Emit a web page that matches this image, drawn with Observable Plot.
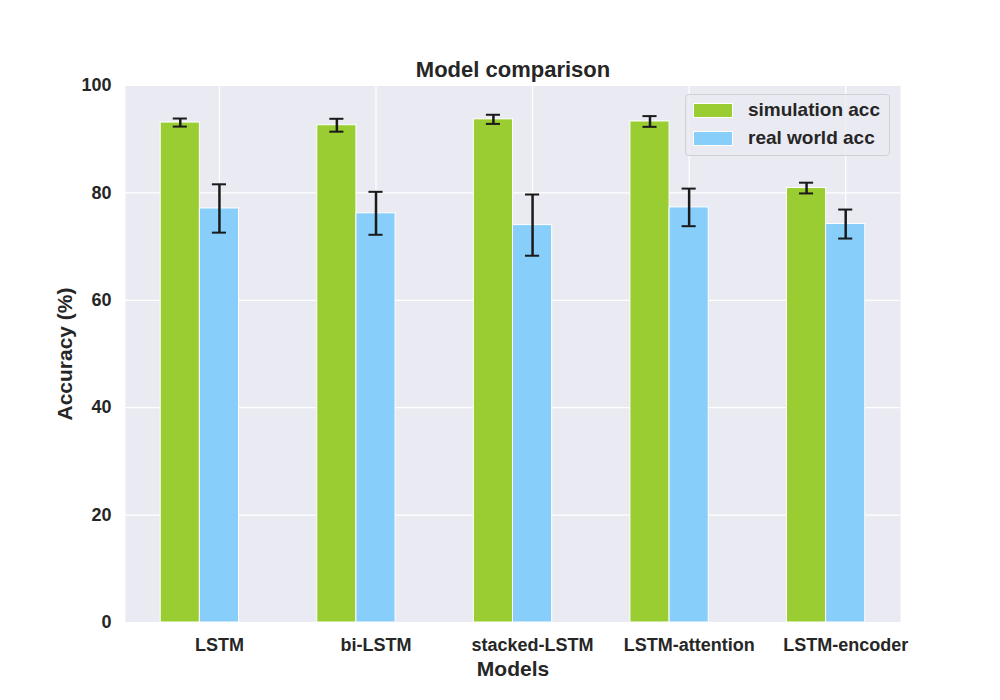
<!DOCTYPE html>
<html>
<head>
<meta charset="utf-8">
<script src="https://cdn.jsdelivr.net/npm/d3@7"></script>
<script src="https://cdn.jsdelivr.net/npm/@observablehq/plot@0.6"></script>
<style>
  body { margin: 0; background: #fff; font-family: "Liberation Sans", Arial, sans-serif; }
  #wrap { position: relative; width: 1000px; height: 700px; }
  #legend {
    position: absolute; left: 685px; top: 94px; width: 203px; height: 60px;
    background: rgba(234,234,242,0.8); border: 1px solid #cfcfd6; border-radius: 4px;
    font-weight: bold; font-size: 19px; color: #262626;
  }
  .item { position: absolute; left: 7px; display: flex; align-items: center; }
  .sw { width: 38px; height: 13px; border: 1px solid #fff; margin-right: 15px; }
</style>
</head>
<body>
<div id="wrap">
  <div id="chart"></div>
  <div id="legend">
    <div class="item" style="top:4px"><span class="sw" style="background:#9acd32"></span>simulation acc</div>
    <div class="item" style="top:32px"><span class="sw" style="background:#87cefa"></span>real world acc</div>
  </div>
</div>
<script>
const models = ["LSTM", "bi-LSTM", "stacked-LSTM", "LSTM-attention", "LSTM-encoder"];
const simAcc = [93.1, 92.6, 93.7, 93.3, 80.9];
const simErr = [0.75, 1.2, 0.85, 1.0, 1.0];
const realAcc = [77.1, 76.2, 74.0, 77.3, 74.2];
const realErr = [4.5, 4.0, 5.7, 3.5, 2.7];

const w = 0.25;
const rows = [];
models.forEach((m, i) => {
  rows.push({model: m, series: "simulation acc", c: i, v: simAcc[i], e: simErr[i]});
  rows.push({model: m, series: "real world acc", c: i + w, v: realAcc[i], e: realErr[i]});
});
const cap = 0.045;

const chart = Plot.plot({
  width: 1000,
  height: 700,
  marginLeft: 125,
  marginRight: 100,
  marginTop: 85,
  marginBottom: 78,
  style: { fontFamily: "'Liberation Sans', Arial, sans-serif", fontWeight: "bold", fontSize: "18px", color: "#262626", background: "transparent" },
  x: { domain: [-0.35, 4.6] },
  y: { domain: [0, 100] },
  color: { domain: ["simulation acc", "real world acc"], range: ["#9acd32", "#87cefa"] },
  marks: [
    Plot.frame({ fill: "#eaeaf2", stroke: null }),
    Plot.gridY(d3.range(0, 101, 20), { stroke: "#fff", strokeOpacity: 1, strokeWidth: 1.2 }),
    Plot.gridX(models.map((m, i) => i + w), { stroke: "#fff", strokeOpacity: 1, strokeWidth: 1.2 }),
    Plot.rectY(rows, { x1: d => d.c - w / 2, x2: d => d.c + w / 2, y1: 0, y2: "v", fill: "series", stroke: "#fff", strokeWidth: 1 }),
    Plot.ruleX(rows, { x: "c", y1: d => d.v - d.e, y2: d => d.v + d.e, stroke: "#1a1a1a", strokeWidth: 2.5 }),
    Plot.ruleY(rows, { y: d => d.v - d.e, x1: d => d.c - cap, x2: d => d.c + cap, stroke: "#1a1a1a", strokeWidth: 2 }),
    Plot.ruleY(rows, { y: d => d.v + d.e, x1: d => d.c - cap, x2: d => d.c + cap, stroke: "#1a1a1a", strokeWidth: 2 }),
    Plot.axisY(d3.range(0, 101, 20), { tickSize: 0, tickPadding: 14, fontSize: 18, label: "Accuracy (%)", labelAnchor: "center", labelArrow: "none", labelOffset: 68 }),
    Plot.axisX(models.map((m, i) => i + w), { tickSize: 0, tickPadding: 16, fontSize: 18, tickFormat: (d, i) => models[i], label: "Models", labelAnchor: "center", labelArrow: "none", labelOffset: 53 }),
    Plot.text(["Model comparison"], { frameAnchor: "top", dy: -9, lineAnchor: "bottom", fontSize: 22, fontWeight: "bold", fill: "#262626" })
  ]
});
d3.select("#chart").append(() => chart);
d3.select(chart).selectAll("text")
  .filter(function () { return this.textContent === "Models" || this.textContent === "Accuracy (%)"; })
  .style("font-size", "21px");
</script>
</body>
</html>
